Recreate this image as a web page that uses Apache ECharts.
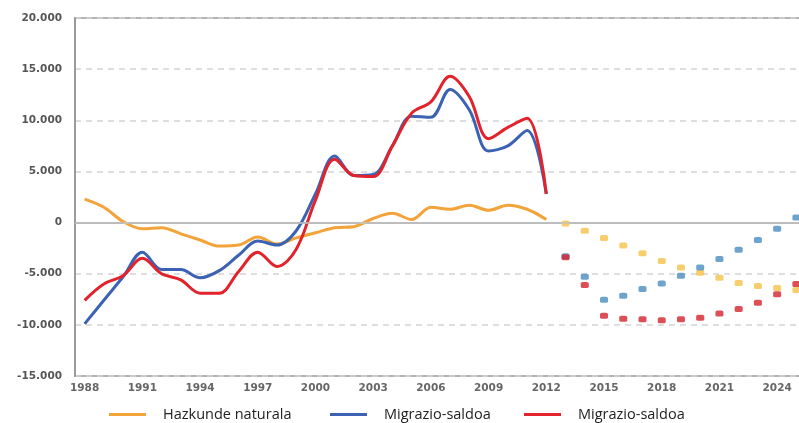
<!DOCTYPE html>
<html>
<head>
<meta charset="utf-8">
<script src="https://cdn.jsdelivr.net/npm/echarts@6/dist/echarts.min.js"></script>
<style>
  html, body { margin: 0; padding: 0; background: #fff; overflow: hidden; }
  /* the plot runs past the right edge of the picture, like the original */
  #main { width: 806px; height: 423px; }
</style>
</head>
<body>
<div id="main"></div>
<script>
var years = ['1988', '1989', '1990', '1991', '1992', '1993', '1994', '1995', '1996', '1997',
  '1998', '1999', '2000', '2001', '2002', '2003', '2004', '2005', '2006', '2007',
  '2008', '2009', '2010', '2011', '2012', '2013', '2014', '2015', '2016', '2017',
  '2018', '2019', '2020', '2021', '2022', '2023', '2024', '2025'];

// 1988-2012, datu historikoak
var naturalHist = [2300, 1500, 100, -600, -500, -1100, -1700, -2300, -2200, -1400, -2100, -1500, -1000,
  -500, -400, 400, 900, 300, 1500, 1300, 1700, 1200, 1700, 1300, 300];
var migBlueHist = [-9900, -7600, -5300, -2900, -4600, -4600, -5400, -4700, -3200, -1800, -2200, -800, 2800,
  6500, 4600, 4700, 7500, 10400, 10300, 13000, 11000, 7000, 7500, 9000, 2800];
var migRedHist = [-7600, -6000, -5200, -3500, -5000, -5600, -6900, -6900, -4800, -2900, -4300, -2600, 2200,
  6200, 4600, 4500, 7500, 10700, 11800, 14300, 12300, 8200, 9300, 10200, 2800];

// 2013-2025, proiekzioak
var naturalProj = [-100, -800, -1500, -2250, -3000, -3750, -4400, -4900, -5400, -5900, -6200, -6400, -6600];
var migBlueProj = [-3300, -5300, -7550, -7150, -6500, -5950, -5200, -4400, -3550, -2650, -1700, -600, 500];
var migRedProj = [-3400, -6100, -9100, -9400, -9450, -9550, -9450, -9300, -8900, -8450, -7850, -7000, -6000];

var legendNames = ['Hazkunde naturala', 'Migrazio-saldoa', 'Migrazio-saldoa'];
var seriesKeys = ['Hazkunde naturala', 'Migrazio-saldoa 1', 'Migrazio-saldoa 2'];

function padProj(arr) {
  var out = [];
  for (var i = 0; i < naturalHist.length; i++) out.push('-');
  return out.concat(arr);
}

function fmt(v) {
  var s = Math.abs(v).toString().replace(/\B(?=(\d{3})+(?!\d))/g, '.');
  return (v < 0 ? '-' : '') + s;
}

var chart = echarts.init(document.getElementById('main'));

function histLine(name, color, data) {
  return {
    name: name,
    type: 'line',
    data: data,
    smooth: 0.35,
    showSymbol: false,
    symbol: 'none',
    lineStyle: { width: 3, color: color },
    itemStyle: { color: color },
    z: 3
  };
}

function projDots(name, color, data) {
  return {
    name: name,
    type: 'scatter',
    data: padProj(data),
    symbol: 'roundRect',
    symbolSize: [8, 6],
    itemStyle: { color: color },
    z: 4
  };
}

function legendItem(i, left) {
  return {
    data: [seriesKeys[i]],
    left: left,
    top: 402,
    icon: 'rect',
    itemWidth: 37,
    itemHeight: 3,
    formatter: function () { return legendNames[i]; },
    textStyle: {
      fontFamily: 'Open Sans',
      fontSize: 14.5,
      color: '#222',
      padding: [0, 0, 0, 12]
    }
  };
}

var option = {
  backgroundColor: '#ffffff',
  animation: false,
  grid: {
    left: 75,
    top: 18,
    bottom: 47,
    right: 0,
    show: true,
    borderColor: '#9a9a9a',
    borderWidth: 1.5
  },
  legend: [legendItem(0, 104), legendItem(1, 325), legendItem(2, 519)],
  xAxis: {
    type: 'category',
    data: years,
    boundaryGap: true,
    axisLine: { show: true, lineStyle: { color: '#9a9a9a', width: 2 } },
    axisTick: { show: false },
    axisLabel: {
      interval: 2,
      margin: 7,
      color: '#666',
      fontFamily: 'DejaVu Sans',
      fontWeight: 'bold',
      fontSize: 10.5
    },
    splitLine: { show: false }
  },
  yAxis: {
    type: 'value',
    min: -15000,
    max: 20000,
    interval: 5000,
    axisLine: { show: true, lineStyle: { color: '#9a9a9a', width: 2 } },
    axisTick: { show: false },
    axisLabel: {
      formatter: fmt,
      margin: 13,
      color: '#555',
      fontFamily: 'DejaVu Sans',
      fontWeight: 'bold',
      fontSize: 10.5
    },
    splitLine: {
      show: true,
      lineStyle: { color: '#d4d4d4', type: [6, 5], width: 1.5 }
    }
  },
  series: [
    histLine(seriesKeys[0], '#f2a33a', naturalHist),
    histLine(seriesKeys[1], '#3c62b3', migBlueHist),
    histLine(seriesKeys[2], '#e2232b', migRedHist),
    projDots(seriesKeys[0], '#f4c24a', naturalProj),
    projDots(seriesKeys[1], '#4a8dbf', migBlueProj),
    projDots(seriesKeys[2], '#d3232c', migRedProj)
  ]
};

// zero lerroa
option.series[0].markLine = {
  silent: true,
  symbol: 'none',
  label: { show: false },
  lineStyle: { color: '#c8c8c8', type: 'solid', width: 1.5 },
  data: [{ yAxis: 0 }]
};

chart.setOption(option);
</script>
</body>
</html>
